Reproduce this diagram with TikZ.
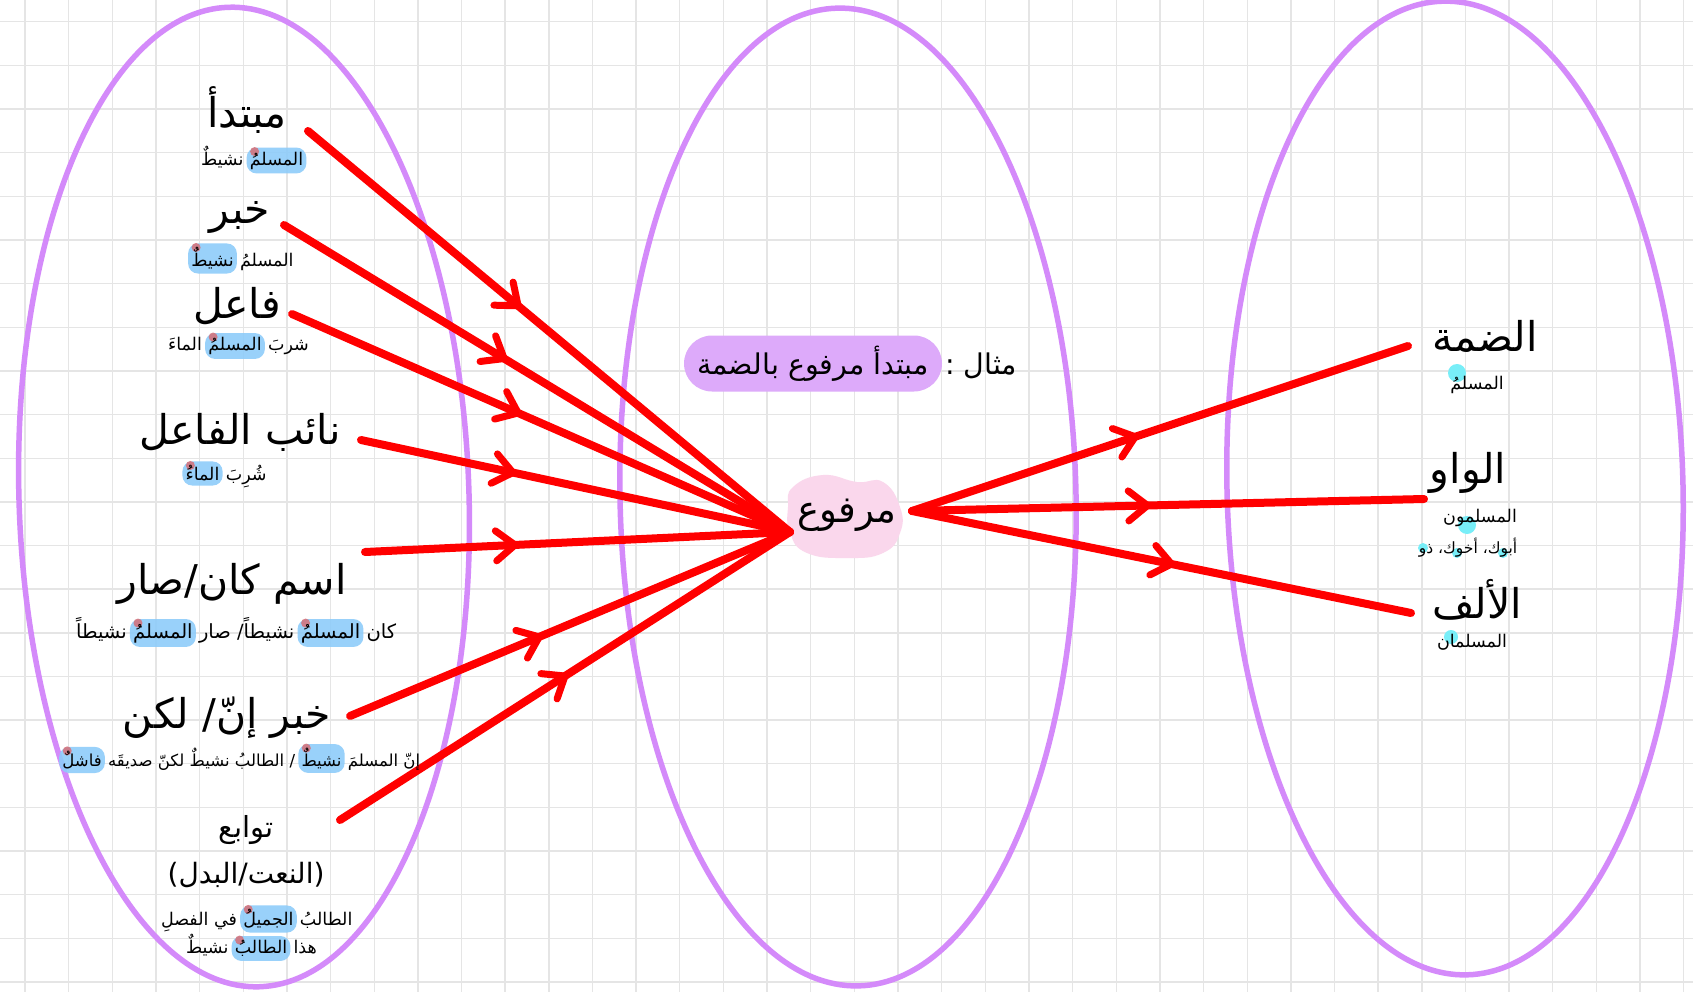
\documentclass[tikz,border=0pt]{standalone}
\usepackage{fontspec}
\newfontfamily\arabicfont[Script=Arabic]{DejaVu Sans}
\TeXXeTstate=1
\usetikzlibrary{decorations.markings}
\definecolor{ell}{RGB}{212,138,250}
\definecolor{gridc}{RGB}{229,229,229}
\definecolor{hlblue}{RGB}{142,204,250}
\definecolor{dotred}{RGB}{214,110,118}
\definecolor{pillc}{RGB}{221,170,250}
\definecolor{blobc}{RGB}{250,215,236}
\definecolor{cyand}{RGB}{120,238,248}
\definecolor{arrred}{RGB}{255,0,0}
\pgfdeclarelayer{back}
\pgfdeclarelayer{hl}
\pgfsetlayers{back,hl,main}
\newcommand{\hlmark}[1]{\begin{pgfonlayer}{hl}\fill[hlblue,opacity=.9,rounded corners=10pt] (#1.south west) rectangle (#1.north east);\fill[dotred,opacity=.85] ([shift={(8pt,-4pt)}]#1.north west) circle[radius=4.5pt];\end{pgfonlayer}}
\newcommand{\chev}{\draw[arrred,line width=7pt,line cap=round,line join=round] (-19pt,15pt) -- (0pt,0pt) -- (-19pt,-15pt);}
\begin{document}
\begin{tikzpicture}[x=1pt,y=-1pt,
  gridline/.style={draw=gridc,line width=1.4pt},
  ellipsebox/.style={draw=ell,line width=5.5pt},
  conn/.style={draw=arrred,line width=8pt,line cap=round},
  mid/.style={decoration={markings,mark=at position #1 with {\chev}},postaction={decorate}},
  head/.style={font=\arabicfont\fontsize{41}{48}\selectfont,inner sep=0pt},
  bighead/.style={font=\arabicfont\fontsize{37}{44}\selectfont,inner sep=0pt},
  subhead/.style={font=\arabicfont\fontsize{29}{34}\selectfont,inner sep=0pt},
  subhead2/.style={font=\arabicfont\fontsize{28}{34}\selectfont,inner sep=0pt},
  sample/.style={font=\arabicfont\fontsize{17.5}{21}\selectfont,inner sep=0pt},
  ww/.style={font=\arabicfont\fontsize{17.5}{21}\selectfont,inner xsep=3pt,inner ysep=4pt},
  wwbig/.style={font=\arabicfont\fontsize{19.5}{23}\selectfont,inner xsep=3pt,inner ysep=4pt},
  wwsmall/.style={font=\arabicfont\fontsize{16.5}{20}\selectfont,inner xsep=3pt,inner ysep=4pt},
  small/.style={font=\arabicfont\fontsize{15.5}{18}\selectfont,inner sep=0pt},
  exw/.style={font=\arabicfont\fontsize{28.5}{34}\selectfont,inner xsep=13pt,inner ysep=4pt},
  exw2/.style={font=\arabicfont\fontsize{28.5}{34}\selectfont,inner xsep=3pt,inner ysep=4pt},
]
\useasboundingbox (0,0) rectangle (1693,992);
\begin{pgfonlayer}{back}
\fill[white] (0,0) rectangle (1693,992);
\foreach \k in {0,...,38} \draw[gridline] ({25+43.65*\k},0) -- ({25+43.65*\k},992);
\foreach \k in {0,...,22} \draw[gridline] (0,{21.7+43.65*\k}) -- (1693,{21.7+43.65*\k});
\draw[ellipsebox,rotate around={1.8:(244,497)}] (244,497) ellipse[x radius=225,y radius=490];
\draw[ellipsebox,rotate around={1.2:(848,497)}] (848,497) ellipse[x radius=228,y radius=489];
\draw[ellipsebox,rotate around={1.4:(1455,488)}] (1455,488) ellipse[x radius=228,y radius=487];
\fill[blobc] plot[smooth cycle,tension=0.8] coordinates {(793,487) (823,475) (857,482) (883,482) (900,507) (900,533) (883,553) (847,558) (807,553) (790,533) (788,507)};
\fill[cyand] (1457,373) circle[radius=9];
\fill[cyand] (1467,525) circle[radius=9];
\fill[cyand] (1423,548) circle[radius=5];
\fill[cyand] (1457,553) circle[radius=5];
\fill[cyand] (1503,553) circle[radius=5];
\fill[cyand] (1451,637) circle[radius=7];
\end{pgfonlayer}
% connector ends
\coordinate (in) at (790,532);
\coordinate (out) at (912,511);
\coordinate (a1) at (308,131);
\coordinate (a2) at (284,225);
\coordinate (a3) at (292,314);
\coordinate (a4) at (361,440);
\coordinate (a5) at (365,552);
\coordinate (a6) at (350,716);
\coordinate (a7) at (340,820);
\coordinate (b1) at (1408,346);
\coordinate (b2) at (1424,499);
\coordinate (b3) at (1411,613);
% connectors
\draw[conn,mid=0.436] (a1) -- (in);
\draw[conn,mid=0.435] (a2) -- (in);
\draw[conn,mid=0.454] (a3) -- (in);
\draw[conn,mid=0.354] (a4) -- (in);
\draw[conn,mid=0.353] (a5) -- (in);
\draw[conn,mid=0.43] (a6) -- (in);
\draw[conn,mid=0.5] (a7) -- (in);
\draw[conn,mid=0.45] (out) -- (b1);
\draw[conn,mid=0.46] (out) -- (b2);
\draw[conn,mid=0.52] (out) -- (b3);
% left headings
\node[head] (mubtada) at (247,110) {\beginR مبتدأ\endR};
\node[head] (khabar) at (240,217) {\beginR خبر\endR};
\node[head] (fail) at (237,306) {\beginR فاعل\endR};
\node[head] (naib) at (240,432) {\beginR نائب الفاعل\endR};
\node[head] (ism) at (232,584) {\beginR اسم كان/صار\endR};
\node[head] (khabarinna) at (227,718) {\beginR خبر إنّ\kern0pt/ لكن\endR};
\node[subhead] (tawabi) at (246,830) {\beginR توابع\endR};
\node[subhead2] (naat) at (246,875) {\beginR (النعت/البدل)\endR};
% samples
\node[ww] (e1a) at (276.5,160.5) {\beginR المسلمُ\endR}; \hlmark{e1a}
\node[ww,anchor=base east] (e1b) at (e1a.base west) {\beginR نشيطٌ\endR};
\node[ww] (e2b) at (212.5,258.5) {\beginR نشيطٌ\endR}; \hlmark{e2b}
\node[ww,anchor=base west] (e2a) at (e2b.base east) {\beginR المسلمُ\endR};
\node[ww] (e3b) at (235,346) {\beginR المسلمُ\endR}; \hlmark{e3b}
\node[ww,anchor=base west] (e3a) at (e3b.base east) {\beginR شربَ\endR};
\node[ww,anchor=base east] (e3c) at (e3b.base west) {\beginR الماءَ\endR};
\node[ww] (e4b) at (202.5,473.5) {\beginR الماءُ\endR}; \hlmark{e4b}
\node[ww,anchor=base west] (e4a) at (e4b.base east) {\beginR شُرِبَ\endR};
\node[wwbig] (e5b) at (330.5,633) {\beginR المسلمُ\endR}; \hlmark{e5b}
\node[wwbig,anchor=base west] (e5a) at (e5b.base east) {\beginR كان\endR};
\node[wwbig,anchor=base east] (e5c) at (e5b.base west) {\beginR نشيطاً\kern0pt/ صار\endR};
\node[wwbig,anchor=base east] (e5d) at (e5c.base west) {\beginR المسلمُ\endR}; \hlmark{e5d}
\node[wwbig,anchor=base east] (e5e) at (e5d.base west) {\beginR نشيطاً\endR};
\node[wwsmall] (e6b) at (321.5,758.5) {\beginR نشيطٌ\endR}; \hlmark{e6b}
\node[wwsmall,anchor=base west] (e6a) at (e6b.base east) {\beginR إنّ المسلمَ\endR};
\node[wwsmall,anchor=base east] (e6c) at (e6b.base west) {\beginR / الطالبُ نشيطٌ لكنّ صديقَه\endR};
\node[wwsmall,anchor=base east] (e6d) at (e6c.base west) {\beginR فاشلٌ\endR}; \hlmark{e6d}
\node[ww] (e7b) at (268.5,919) {\beginR الجميلُ\endR}; \hlmark{e7b}
\node[ww,anchor=base west] (e7a) at (e7b.base east) {\beginR الطالبُ\endR};
\node[ww,anchor=base east] (e7c) at (e7b.base west) {\beginR في الفصلِ\endR};
\node[ww] (e8b) at (261,948.5) {\beginR الطالبُ\endR}; \hlmark{e8b}
\node[ww,anchor=base west] (e8a) at (e8b.base east) {\beginR هذا\endR};
\node[ww,anchor=base east] (e8c) at (e8b.base west) {\beginR نشيطٌ\endR};
% middle
\node[exw] (expl) at (813,363.5) {\beginR مبتدأ مرفوع بالضمة\endR};
\begin{pgfonlayer}{hl}\fill[pillc,rounded corners=28pt] ([yshift=-28pt]expl.west) rectangle ([yshift=28pt]expl.east);\end{pgfonlayer}
\node[exw2,anchor=base west] (mithal) at (expl.base east) {\beginR مثال :\endR};
\node[bighead] (marfu) at (847,515) {\beginR مرفوع\endR};
% right labels
\node[head] (damma) at (1485,336) {\beginR الضمة\endR};
\node[sample] (exr1) at (1477,385) {\beginR المسلمُ\endR};
\node[head] (waw) at (1468,473) {\beginR الواو\endR};
\node[sample] (exr2) at (1480,518) {\beginR المسلمون\endR};
\node[small] (exr3) at (1468,548) {\beginR أبوك\kern0pt، أخوك\kern0pt، ذو\endR};
\node[head] (alif) at (1477,600) {\beginR الألف\endR};
\node[sample] (exr4) at (1472,642) {\beginR المسلمان\endR};
\end{tikzpicture}
\end{document}
